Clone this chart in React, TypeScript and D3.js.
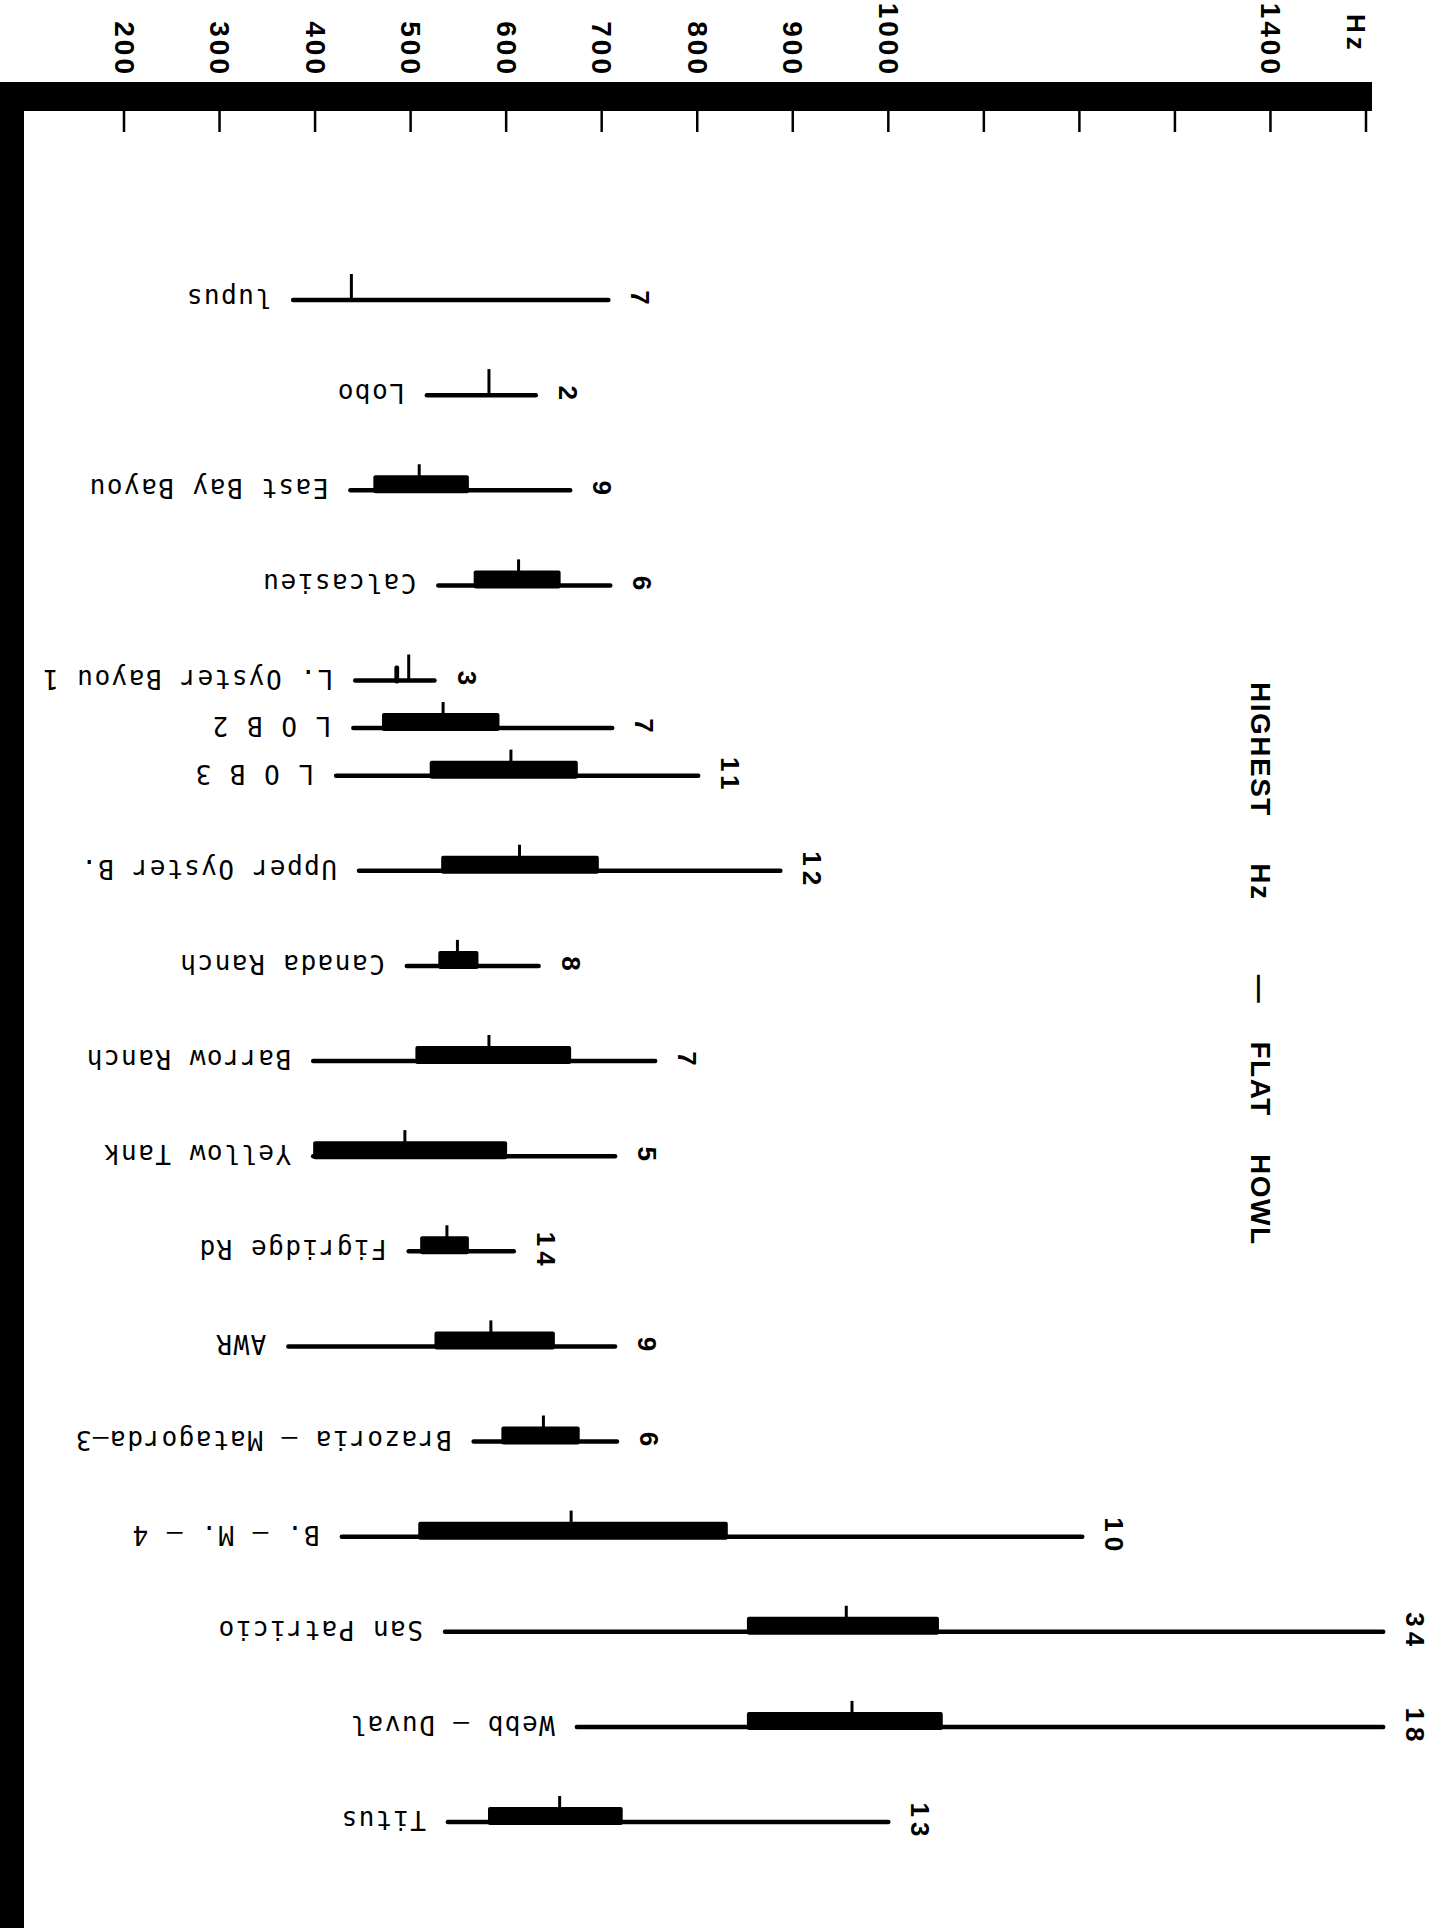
import * as d3 from 'd3'
import { useEffect, useRef } from 'react'

// rows, top to bottom
const sites = [
    'lupus', 'Lobo', 'East Bay Bayou', 'Calcasieu', 'L. Oyster Bayou 1', 'L O B 2', 'L O B 3',
    'Upper Oyster B.', 'Canada Ranch', 'Barrow Ranch', 'Yellow Tank', 'Figridge Rd', 'AWR',
    'Brazoria – Matagorda—3', 'B. — M. — 4', 'San Patricio', 'Webb — Duval', 'Titus',
]
// row slot (L O B 2 sits between two rows)
const slots = [0, 1, 2, 3, 4, 4.5, 5, 6, 7, 8, 9, 10, 11, 12, 13, 14, 15, 16]

// highest Hz: range, box, mean, n
const lows = [377, 517, 437, 529, 442, 440, 422, 446, 496, 398, 398, 498, 372, 566, 428, 536, 674, 539]
const highs = [707, 631, 667, 709, 525, 711, 801, 887, 634, 756, 714, 608, 714, 716, 1203, 1518, 1518, 1000]
const boxLows = [null, null, 461, 566, 483, 470, 520, 532, 529, 505, 398, 510, 525, 595, 508, 852, 852, 581]
const boxHighs = [null, null, 561, 657, 488, 593, 675, 697, 571, 668, 601, 561, 651, 677, 832, 1053, 1057, 722]
const means = [438, 582, 509, 613, 498, 534, 605, 614, 549, 582, 494, 538, 584, 639, 668, 956, 962, 656]
const counts = [7, 2, 9, 6, 3, 7, 11, 12, 8, 7, 5, 14, 9, 6, 10, 34, 18, 13]

const tickValues = [200, 300, 400, 500, 600, 700, 800, 900, 1000, 1100, 1200, 1300, 1400, 1500]
const tickLabels = ['200', '300', '400', '500', '600', '700', '800', '900', '1000', '', '', '', '1400', '']

const title = 'HIGHEST     Hz        —    FLAT    HOWL'

const W = 1437
const H = 1928

const App = () => {
    const ref = useRef<SVGSVGElement>(null)

    useEffect(() => {
        const svg = d3.select(ref.current)
        svg.selectAll('*').remove()

        const x = d3.scaleLinear().domain([200, 1500]).range([124, 1366])
        const y = d3.scaleLinear().domain([0, 16]).range([300, 1822])

        const barTop = 82
        const barBottom = 111

        // heavy frame: top bar and left bar
        svg.append('rect')
            .attr('x', 0).attr('y', barTop)
            .attr('width', x(1500) + 6).attr('height', barBottom - barTop)
            .attr('fill', '#000')
        svg.append('rect')
            .attr('x', 0).attr('y', barTop)
            .attr('width', 24).attr('height', H - barTop)
            .attr('fill', '#000')

        // ticks below the bar
        svg.selectAll('.tick')
            .data(tickValues)
            .enter()
            .append('line')
            .attr('class', 'tick')
            .attr('x1', d => x(d)).attr('x2', d => x(d))
            .attr('y1', barBottom).attr('y2', barBottom + 21)
            .attr('stroke', '#000')
            .attr('stroke-width', 2.5)

        // tick labels, turned sideways
        svg.selectAll('.tick-label')
            .data(tickValues.map((v, i) => ({ v, label: tickLabels[i] })).filter(d => d.label))
            .enter()
            .append('text')
            .attr('class', 'tick-label')
            .attr('transform', d => `translate(${x(d.v)},77) rotate(90)`)
            .attr('text-anchor', 'end')
            .attr('dominant-baseline', 'central')
            .attr('font-family', 'Liberation Sans, Arial, sans-serif')
            .attr('font-weight', 'bold')
            .attr('font-size', 28)
            .attr('letter-spacing', 3)
            .text(d => d.label)

        svg.append('text')
            .attr('transform', `translate(${x(1500) - 10},14) rotate(90)`)
            .attr('text-anchor', 'start')
            .attr('dominant-baseline', 'central')
            .attr('font-family', 'Liberation Sans, Arial, sans-serif')
            .attr('font-weight', 'bold')
            .attr('font-size', 26)
            .attr('letter-spacing', 4)
            .text('Hz')

        // title
        svg.append('text')
            .attr('transform', 'translate(1260,682) rotate(90)')
            .attr('text-anchor', 'start')
            .attr('dominant-baseline', 'central')
            .attr('font-family', 'Liberation Sans, Arial, sans-serif')
            .attr('font-weight', 'bold')
            .attr('font-size', 28)
            .attr('letter-spacing', 1.5)
            .style('white-space', 'pre')
            .text(title)

        const rows = sites.map((name, i) => ({
            name,
            slot: slots[i],
            low: lows[i],
            high: highs[i],
            boxLow: boxLows[i],
            boxHigh: boxHighs[i],
            mean: means[i],
            n: counts[i],
        }))

        const g = svg.selectAll('.row')
            .data(rows)
            .enter()
            .append('g')
            .attr('class', 'row')

        // range line
        g.append('line')
            .attr('x1', d => x(d.low)).attr('x2', d => x(d.high))
            .attr('y1', d => y(d.slot)).attr('y2', d => y(d.slot))
            .attr('stroke', '#000')
            .attr('stroke-width', 4.5)
            .attr('stroke-linecap', 'round')

        // box sitting on the line
        g.filter(d => d.boxLow !== null)
            .append('rect')
            .attr('x', d => x(d.boxLow as number))
            .attr('y', d => y(d.slot) - 15)
            .attr('width', d => Math.max(4, x(d.boxHigh as number) - x(d.boxLow as number)))
            .attr('height', 18)
            .attr('rx', 2)
            .attr('fill', '#000')

        // mean mark
        g.append('line')
            .attr('x1', d => x(d.mean)).attr('x2', d => x(d.mean))
            .attr('y1', d => y(d.slot)).attr('y2', d => y(d.slot) - 26)
            .attr('stroke', '#000')
            .attr('stroke-width', 3)

        // site names, upside down
        g.append('text')
            .attr('transform', d => `translate(${x(d.low) - 22},${y(d.slot) - 2}) rotate(180)`)
            .attr('text-anchor', 'start')
            .attr('dominant-baseline', 'central')
            .attr('font-family', 'DejaVu Sans Mono, Liberation Mono, monospace')
            .attr('font-size', 26)
            .attr('font-weight', 500)
            .attr('letter-spacing', 1.5)
            .style('white-space', 'pre')
            .text(d => d.name)

        // sample sizes, sideways
        g.append('text')
            .attr('transform', d => `translate(${x(d.high) + 32},${y(d.slot)}) rotate(90)`)
            .attr('text-anchor', 'middle')
            .attr('dominant-baseline', 'central')
            .attr('font-family', 'Liberation Sans, Arial, sans-serif')
            .attr('font-weight', 'bold')
            .attr('font-size', 26)
            .attr('letter-spacing', 5)
            .text(d => d.n)
    }, [])

    return (
        <div style={{ position: 'absolute', left: 0, top: 0 }}>
            <svg ref={ref} width={W} height={H} style={{ display: 'block', background: '#fff' }}></svg>
        </div>
    )
}

export default App
